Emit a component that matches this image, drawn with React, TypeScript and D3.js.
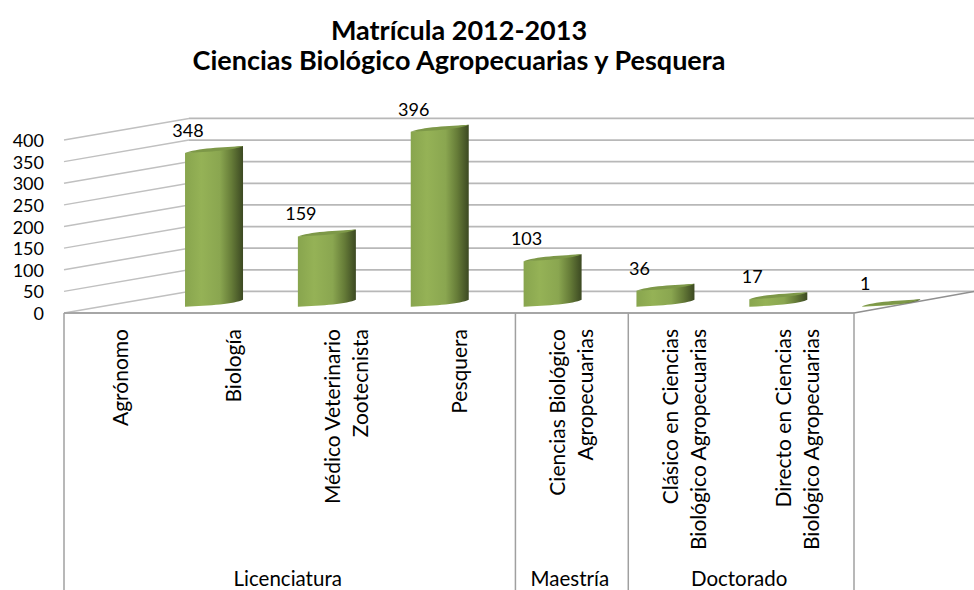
import React from 'react';
import * as d3 from 'd3';

const titleLines = ['Matrícula 2012-2013', 'Ciencias Biológico Agropecuarias y Pesquera'];
const categories = [
  'Agrónomo',
  'Biología',
  'Médico Veterinario\nZootecnista',
  'Pesquera',
  'Ciencias Biológico\nAgropecuarias',
  'Clásico en Ciencias\nBiológico Agropecuarias',
  'Directo en Ciencias\nBiológico Agropecuarias',
];
const values = [348, 159, 396, 103, 36, 17, 1];
const groupNames = ['Licenciatura', 'Maestría', 'Doctorado'];
const groupSizes = [4, 1, 2];
const yTicks = [0, 50, 100, 150, 200, 250, 300, 350, 400];

const FONT = 'Lato, "Open Sans", sans-serif';
const WIDTH = 974;
const HEIGHT = 590;
const DEPTH_X = 125; // how far the back wall sits from the front of the floor
const DEPTH_Y = 21.6;
const BAR_SHIFT = 93.6; // bars stand part way back on the floor
const BAR_WIDTH = 58;
const BAR_SKEW = 7;

const x = d3.scaleBand<string>().domain(categories).range([64, 854]);
const y = d3.scaleLinear().domain([0, 400]).range([313, 140]);
// bars use their own scale because they stand behind the front edge
const barY = d3.scaleLinear().domain([0, 400]).range([306.7, 130]);

function bodyPath(x0: number, top: number, bottom: number) {
  const x1 = x0 + BAR_WIDTH;
  const p = d3.path();
  p.moveTo(x0, top);
  p.lineTo(x0, bottom);
  p.bezierCurveTo(x0 + 24, bottom - 1, x1 - 8, bottom - 3, x1, bottom - BAR_SKEW);
  p.lineTo(x1, top - BAR_SKEW);
  p.closePath();
  return p.toString();
}

function capPath(x0: number, top: number) {
  const x1 = x0 + BAR_WIDTH;
  const p = d3.path();
  p.moveTo(x0, top);
  p.bezierCurveTo(x0 + 10, top - 4.5, x1 - 18, top - 6, x1, top - BAR_SKEW);
  p.bezierCurveTo(x1 - 8, top - 3, x0 + 24, top - 1, x0, top);
  p.closePath();
  return p.toString();
}

export default function App() {
  const step = x.step();
  let used = 0;
  const groups = groupNames.map((name, i) => {
    const start = x.range()[0] + used * step;
    used += groupSizes[i];
    return { name, start, end: x.range()[0] + used * step };
  });
  const frontRight = x.range()[1];

  return (
    <svg width={WIDTH} height={HEIGHT} style={{ position: 'absolute', left: 0, top: 0, background: '#fff' }}>
      <defs>
        <linearGradient id="cyl" x1="0" x2="1" y1="0" y2="0">
          <stop offset="0" stopColor="#88a54e" />
          <stop offset="0.28" stopColor="#95b256" />
          <stop offset="0.6" stopColor="#8aa650" />
          <stop offset="0.8" stopColor="#667c38" />
          <stop offset="1" stopColor="#3c4922" />
        </linearGradient>
      </defs>

      {titleLines.map((t, i) => (
        <text key={t} x={459} y={39.5 + i * 30} textAnchor="middle" fontFamily={FONT} fontWeight={700} fontSize={27} fill="#000">
          {t}
        </text>
      ))}

      {/* gridlines on the side wall and the back wall */}
      {yTicks.map(t => (
        <g key={t} fill="none">
          <line x1={x.range()[0]} x2={x.range()[0] + DEPTH_X} y1={y(t)} y2={y(t) - DEPTH_Y} stroke="#c0c0c0" strokeWidth={1.5} />
          <line x1={x.range()[0] + DEPTH_X} x2={WIDTH} y1={y(t) - DEPTH_Y} y2={y(t) - DEPTH_Y} stroke="#b8b8b8" strokeWidth={1.8} />
          <text x={44} y={y(t) + 7} textAnchor="end" fontFamily={FONT} fontSize={18} fill="#000">
            {t}
          </text>
        </g>
      ))}

      {/* floor front edge and right side */}
      <line x1={x.range()[0]} x2={frontRight} y1={y(0)} y2={y(0)} stroke="#a6a6a6" strokeWidth={2} />
      <line x1={frontRight} x2={WIDTH} y1={y(0)} y2={y(0) - DEPTH_Y} stroke="#909090" strokeWidth={1.5} />

      {/* group separators */}
      {[groups[0].start, ...groups.map(g => g.end)].map(v => (
        <line key={v} x1={v} x2={v} y1={y(0)} y2={HEIGHT} stroke="#a0a0a0" strokeWidth={1.5} />
      ))}
      {groups.map(g => (
        <text key={g.name} x={(g.start + g.end) / 2 - 2} y={586} textAnchor="middle" fontFamily={FONT} fontSize={20.5} fill="#000">
          {g.name}
        </text>
      ))}

      {/* bars */}
      {categories.map((c, i) => {
        const x0 = (x(c) as number) + step / 2 + BAR_SHIFT - BAR_WIDTH / 2;
        const top = barY(values[i]);
        return (
          <g key={c}>
            <path d={bodyPath(x0, top, barY(0))} fill="url(#cyl)" />
            <path d={capPath(x0, top)} fill="#7d9848" />
            <text x={x0 + 3} y={top - 16} textAnchor="middle" fontFamily={FONT} fontSize={18} fill="#000">
              {values[i]}
            </text>
          </g>
        );
      })}

      {/* rotated category labels */}
      {categories.map(c => {
        const lines = c.split('\n');
        const cx = (x(c) as number) + step / 2;
        return lines.map((line, j) => {
          const lx = cx + (j - (lines.length - 1) / 2) * 28 + 7.5;
          return (
            <text key={line + j} transform={`translate(${lx},329) rotate(-90)`} textAnchor="end" fontFamily={FONT} fontSize={21} fill="#000">
              {line}
            </text>
          );
        });
      })}
    </svg>
  );
}
